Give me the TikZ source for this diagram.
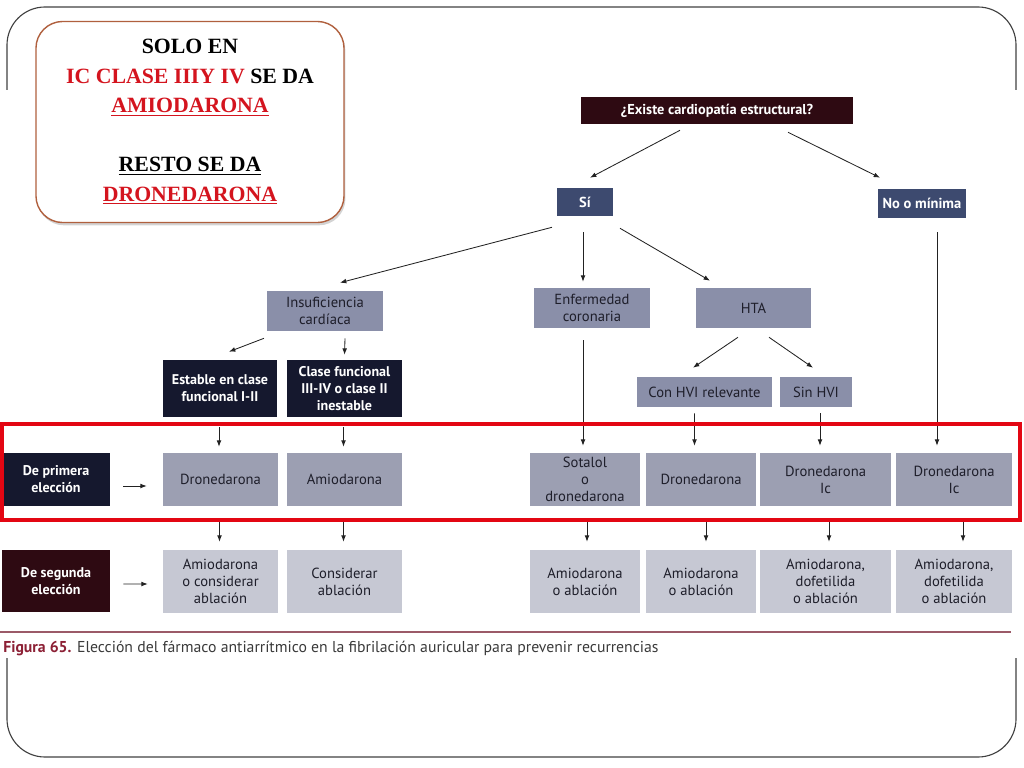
\documentclass[tikz,border=0pt]{standalone}
\usepackage{fontspec}
\setmainfont{PT Sans}
\newfontfamily\notefont{Liberation Serif}
\usetikzlibrary{arrows.meta,shadows}
\definecolor{hdrred}{HTML}{2E0A12}
\definecolor{sinavy}{HTML}{3D4A6F}
\definecolor{darknavy}{HTML}{15182E}
\definecolor{midgray}{HTML}{8A8FA9}
\definecolor{firstgray}{HTML}{9C9FB2}
\definecolor{secgray}{HTML}{C6C8D3}
\definecolor{boxtext}{HTML}{1E1E2A}
\definecolor{notered}{HTML}{D4141E}
\definecolor{notebrown}{HTML}{B0603E}
\definecolor{caprule}{HTML}{9B5A68}
\definecolor{capred}{HTML}{8C2035}
\definecolor{captext}{HTML}{3A3A3A}
\definecolor{framegray}{HTML}{404040}
\definecolor{linegray}{HTML}{222222}
\definecolor{bandred}{HTML}{E30613}
\begin{document}
\begin{tikzpicture}[x=0.025cm,y=-0.025cm,
  box/.style={inner sep=0pt,align=center,text=boxtext,font=\fontsize{10.4}{12}\selectfont},
  hdr/.style={box,fill=hdrred,text=white,font=\bfseries\fontsize{10.2}{12}\selectfont},
  yesno/.style={box,fill=sinavy,text=white,font=\bfseries\fontsize{10.3}{12}\selectfont},
  dark/.style={box,fill=darknavy,text=white,font=\bfseries\fontsize{10}{12}\selectfont},
  mid/.style={box,fill=midgray},
  first/.style={box,fill=firstgray,minimum height=1.325cm},
  second/.style={box,fill=secgray,minimum height=1.575cm},
  note/.style={draw=notebrown,line width=1pt,fill=white,rounded corners=19pt,
    minimum width=7.7cm,minimum height=5.025cm,align=center,
    drop shadow={shadow xshift=1pt,shadow yshift=-2pt,opacity=.35},
    font=\notefont\bfseries\fontsize{15.5}{21}\selectfont},
  frame/.style={draw=framegray,line width=0.8pt,rounded corners=27pt},
  arr/.style={-{Latex[length=4.5pt,width=3.4pt]},line width=0.6pt,draw=linegray}]
\useasboundingbox (0,0) rectangle (1024,768);
\draw[frame] (7,90) -- (7,7) -- (1016,7) -- (1016,90);
\draw[frame] (7,658) -- (7,757) -- (1016,757) -- (1016,658);

\node[note] (note) at (190,122) {SOLO EN\\
  \textcolor{notered}{IC CLASE IIIY IV} SE DA\\
  \textcolor{notered}{\underline{AMIODARONA}}\\[21pt]
  \underline{RESTO SE DA}\\
  \textcolor{notered}{\underline{DRONEDARONA}}};

\node[hdr,minimum width=6.8cm,minimum height=0.675cm] (q) at (717,110.5) {¿Existe cardiopatía estructural?};
\node[yesno,minimum width=1.4cm,minimum height=0.7cm] (si) at (585,202) {Sí};
\node[yesno,minimum width=2.2cm,minimum height=0.725cm] (no) at (922,203.5) {No o mínima};
\node[mid,minimum width=2.9cm,minimum height=1cm] (ic) at (325,311) {Insuficiencia\\cardíaca};
\node[mid,minimum width=2.9cm,minimum height=1cm] (ec) at (592,308) {Enfermedad\\coronaria};
\node[mid,minimum width=2.875cm,minimum height=1cm] (hta) at (753.5,308) {HTA};
\node[dark,minimum width=2.85cm,minimum height=1.425cm] (est) at (220,388.5) {Estable en clase\\funcional I-II};
\node[dark,minimum width=2.875cm,minimum height=1.425cm] (cf) at (344.5,388.5) {Clase funcional\\III-IV o clase II\\inestable};
\node[mid,minimum width=3.375cm,minimum height=0.75cm] (hvi) at (704.5,392) {Con HVI relevante};
\node[mid,minimum width=1.8cm,minimum height=0.75cm] (shvi) at (816,392) {Sin HVI};

\node[dark,minimum width=2.7cm,minimum height=1.325cm] (p0) at (56,479.5) {De primera\\elección};
\node[first,minimum width=2.875cm] (p1) at (220.5,479.5) {Dronedarona};
\node[first,minimum width=2.875cm] (p2) at (344.5,479.5) {Amiodarona};
\node[first,minimum width=2.75cm] (p3) at (585,479.5) {Sotalol\\o\\dronedarona};
\node[first,minimum width=2.75cm] (p4) at (701,479.5) {Dronedarona};
\node[first,minimum width=3.275cm] (p5) at (825.5,479.5) {Dronedarona\\Ic};
\node[first,minimum width=2.9cm] (p6) at (954,479.5) {Dronedarona\\Ic};

\node[dark,fill=hdrred,minimum width=2.7cm,minimum height=1.55cm] (s0) at (56,581) {De segunda\\elección};
\node[second,minimum width=2.875cm] (s1) at (220.5,581.5) {Amiodarona\\o considerar\\ablación};
\node[second,minimum width=2.875cm] (s2) at (344.5,581.5) {Considerar\\ablación};
\node[second,minimum width=2.75cm] (s3) at (585,581.5) {Amiodarona\\o ablación};
\node[second,minimum width=2.75cm] (s4) at (701,581.5) {Amiodarona\\o ablación};
\node[second,minimum width=3.275cm] (s5) at (825.5,581.5) {Amiodarona,\\dofetilida\\o ablación};
\node[second,minimum width=2.9cm] (s6) at (954,581.5) {Amiodarona,\\dofetilida\\o ablación};

\draw[arr] ([shift={(-37,6)}]q.south) -- ([shift={(5,-10)}]si.north);
\draw[arr] ([shift={(71,8)}]q.south) -- ([shift={(-42,-11)}]no.north);
\draw[arr] ([shift={(-33,11)}]si.south) -- ([shift={(15,-8)}]ic.north);
\draw[arr] ([shift={(-2,16)}]si.south) -- ([shift={(-9,-6)}]ec.north);
\draw[arr] ([shift={(35,12)}]si.south) -- ([shift={(-43.5,-7)}]hta.north);
\draw[arr] ([shift={(15,14)}]no.south) -- ([shift={(-17,-7)}]p6.north);
\draw[arr] ([shift={(-61,7)}]ic.south) -- ([shift={(9,-8)}]est.north);
\draw[arr] ([shift={(20,7)}]ic.south) -- ([shift={(0,-5)}]cf.north);
\draw[arr] ([shift={(-15.5,9)}]hta.south) -- ([shift={(-11.5,-9)}]hvi.north);
\draw[arr] ([shift={(15.5,9)}]hta.south) -- ([shift={(-3,-9)}]shvi.north);
\draw[arr] ([shift={(-1,10)}]est.south) -- ([shift={(-1.5,-6)}]p1.north);
\draw[arr] ([shift={(-1,10)}]cf.south) -- ([shift={(-1,-6)}]p2.north);
\draw[arr] ([shift={(-9,12)}]ec.south) -- ([shift={(-2,-7)}]p3.north);
\draw[arr] ([shift={(-10,6)}]hvi.south) -- ([shift={(-6.5,-7)}]p4.north);
\draw[arr] ([shift={(4,6)}]shvi.south) -- ([shift={(-5.5,-7)}]p5.north);
\draw[arr] ([shift={(-1,15)}]p1.south) -- ([shift={(-1,-8)}]s1.north);
\draw[arr] ([shift={(-1,15)}]p2.south) -- ([shift={(-1,-8)}]s2.north);
\draw[arr] ([shift={(2,15)}]p3.south) -- ([shift={(2,-8)}]s3.north);
\draw[arr] ([shift={(5,15)}]p4.south) -- ([shift={(5,-8)}]s4.north);
\draw[arr] ([shift={(3.5,15)}]p5.south) -- ([shift={(3.5,-8)}]s5.north);
\draw[arr] ([shift={(9,15)}]p6.south) -- ([shift={(9,-8)}]s6.north);
\draw[arr] ([shift={(13,6.5)}]p0.east) -- ([shift={(-16,6.5)}]p1.west);
\draw[arr] ([shift={(13,3)}]s0.east) -- ([shift={(-15,2.5)}]s1.west);

\draw[bandred,line width=2.8pt] (2,424) rectangle (1020,520);

\draw[caprule,line width=1pt] (0,632) -- (1011,632);
\node[anchor=base west,inner sep=0pt,text=captext,font=\fontsize{11.2}{13}\selectfont] (cap) at (3,652)
  {\textbf{\textcolor{capred}{Figura 65.}} Elección del fármaco antiarrítmico en la fibrilación auricular para prevenir recurrencias};
\end{tikzpicture}
\end{document}
